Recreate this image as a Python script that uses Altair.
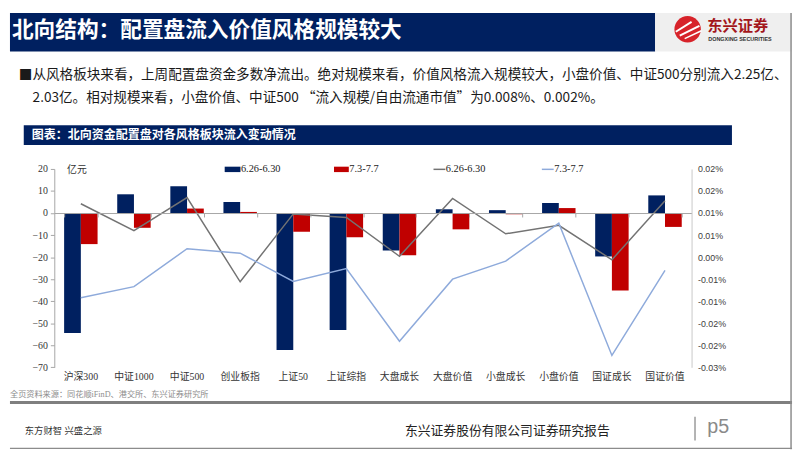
import altair as alt
import pandas as pd

# ---------------- data ----------------
categories = ['沪深300', '中证1000', '中证500', '创业板指', '上证50', '上证综指',
              '大盘成长', '大盘价值', '小盘成长', '小盘价值', '国证成长', '国证价值']
series = ['6.26-6.30', '7.3-7.7']
flow_626 = [-54.4, 8.5, 12.1, 5.0, -62.1, -53.1, -17.0, 1.7, 1.3, 4.6, -19.7, 8.0]
flow_73 = [-14.1, -6.7, 2.03, 0.5, -8.5, -11.0, -19.2, -7.4, -0.5, 2.25, -35.1, -6.3]
ratio_626 = [0.0121, 0.0060, 0.0135, -0.0056, 0.0098, 0.0090, 0.0002, 0.0133, 0.0053, 0.0072, -0.0006, 0.0128]
ratio_73 = [-0.0092, -0.0067, 0.0019, 0.0009, -0.0055, -0.0026, -0.0191, -0.0050, -0.0009, 0.0077, -0.0223, -0.0030]
left_ticks = [20, 10, 0, -10, -20, -30, -40, -50, -60, -70]
right_ticks = [0.02, 0.015, 0.01, 0.005, 0.0, -0.005, -0.01, -0.015, -0.02, -0.025]

title_text = '北向结构：配置盘流入价值风格规模较大'
para1 = '■从风格板块来看，上周配置盘资金多数净流出。绝对规模来看，价值风格流入规模较大，小盘价值、中证500分别流入2.25亿、'
para2 = '2.03亿。相对规模来看，小盘价值、中证500 “流入规模/自由流通市值”为0.008%、0.002%。'
chart_title = '图表：北向资金配置盘对各风格板块流入变动情况'
unit_text = '亿元'
source_text = '全页资料来源：同花顺iFinD、港交所、东兴证券研究所'
footer_left = '东方财智 兴盛之源'
footer_mid = '东兴证券股份有限公司证券研究报告'
page_no = 'p5'
logo_cn = '东兴证券'
logo_en = 'DONGXING SECURITIES'

bars = pd.DataFrame({
    'cat': categories * 2,
    'series': [series[0]] * len(categories) + [series[1]] * len(categories),
    'value': flow_626 + flow_73,
})
lines = pd.DataFrame({
    'cat': categories * 2,
    'series': [series[0]] * len(categories) + [series[1]] * len(categories),
    'pct': ratio_626 + ratio_73,
})
dummy = pd.DataFrame({'a': [0]})

# ---------------- layout (plot area origin in page coords) ----------------
OX, OY = 53.0, 166.3
PW, PH = 647.0, 201.4
ZERO_FROM_TOP = 20.0 / 90.0 * PH


def RX(x):
    return x - OX


def RY(y):
    return y - OY


NAVY = '#002060'
RED = '#c00000'
GRAY_LINE = '#737373'
BLUE_LINE = '#8eaadb'
CJK = 'Noto Sans CJK SC'
SERIF = 'Liberation Serif, Noto Sans CJK SC'

xscale = alt.Scale(paddingInner=0.37, paddingOuter=0.185)
x_axis = alt.Axis(orient='bottom', offset=-(PH - ZERO_FROM_TOP), labels=False,
                  domain=True, domainColor='#a6a6a6', ticks=True, tickBand='extent',
                  tickSize=4, tickColor='#a6a6a6', grid=False, title=None, zindex=1)
x_enc = alt.X('cat:N', sort=categories, scale=xscale, axis=x_axis)

bar_layer = alt.Chart(bars).mark_bar().encode(
    x=x_enc,
    xOffset=alt.XOffset('series:N', sort=series, scale=alt.Scale(paddingInner=0)),
    y=alt.Y('value:Q', scale=alt.Scale(domain=[-70, 20], nice=False, zero=False),
            axis=alt.Axis(orient='left', values=left_ticks, domainColor='#a6a6a6',
                          tickColor='#a6a6a6', tickSize=4, labelFont='Liberation Serif',
                          labelFontSize=10, labelColor='#333333', labelPadding=3,
                          grid=False, title=None, zindex=1)),
    color=alt.Color('series:N', sort=series,
                    scale=alt.Scale(domain=series, range=[NAVY, RED]), legend=None),
)

label_expr = ("(datum.value < 0 ? '-' : '') + format(round(abs(datum.value) * 100 + 1e-6) / 100, '.2f') + '%'")
line_layer = alt.Chart(lines).mark_line(strokeWidth=1.5).encode(
    x=x_enc,
    y=alt.Y('pct:Q', scale=alt.Scale(domain=[-0.025, 0.02], nice=False, zero=False),
            axis=alt.Axis(orient='right', values=right_ticks, labelExpr=label_expr,
                          domainColor='#c8c8c8', ticks=False, labelFont='Liberation Sans',
                          labelFontSize=9, labelColor='#404040', labelPadding=6,
                          grid=False, title=None, zindex=1)),
    color=alt.Color('series:N', sort=series,
                    scale=alt.Scale(domain=series, range=[GRAY_LINE, BLUE_LINE]), legend=None),
)

cat_labels = alt.Chart(pd.DataFrame({'cat': categories})).mark_text(
    font=SERIF, fontSize=10, color='#333333', baseline='middle', align='center'
).encode(x=x_enc, y=alt.value(RY(377.5)), text='cat:N')


def box(x1, y1, x2, y2, color):
    return alt.Chart(dummy).mark_rect(color=color).encode(
        x=alt.value(RX(x1)), x2=alt.value(RX(x2)), y=alt.value(RY(y1)), y2=alt.value(RY(y2)))


def rule(x1, y1, x2, y2, color, w):
    return alt.Chart(dummy).mark_rule(color=color, strokeWidth=w).encode(
        x=alt.value(RX(x1)), x2=alt.value(RX(x2)), y=alt.value(RY(y1)), y2=alt.value(RY(y2)))


def txt(text, x, y, size, color, font=CJK, weight='normal', align='left'):
    return alt.Chart(dummy).mark_text(
        text=text, fontSize=size, color=color, font=font, fontWeight=weight,
        align=align, baseline='middle').encode(x=alt.value(RX(x)), y=alt.value(RY(y)))


deco = [
    box(8, 8, 663, 47, NAVY),
    box(663, 8, 802, 47, '#efefef'),
    txt(title_text, 10, 25, 22, 'white', weight='bold'),
    # logo
    alt.Chart(dummy).mark_point(filled=True, shape='circle', size=720, color='#d7232a', opacity=1).encode(
        x=alt.value(RX(696)), y=alt.value(RY(24.5))),
    rule(684, 27, 700, 17, 'white', 2),
    rule(688, 31, 708, 21, 'white', 2),
    rule(693, 34, 710, 26, 'white', 1.5),
    txt(logo_cn, 716, 21, 15.5, '#a3161c', weight='bold'),
    txt(logo_en, 717, 34, 5.5, '#333333', font='Liberation Sans', weight='bold'),
    # paragraph
    txt(para1, 17, 71, 13.8, '#1a1a1a'),
    txt(para2, 31, 94, 13.8, '#1a1a1a'),
    # chart title bar
    box(22, 122, 741, 142, NAVY),
    txt(chart_title, 30, 132, 12.2, 'white', weight='bold'),
    # unit
    txt(unit_text, 66, 167, 10, '#333333', font=SERIF),
    # legend
    box(226, 164, 242, 169.5, NAVY),
    txt(series[0], 242.5, 166.7, 10.5, '#222222', font='Liberation Serif'),
    box(337, 164, 352, 169.5, RED),
    txt(series[1], 352.5, 166.7, 10.5, '#222222', font='Liberation Serif'),
    rule(438, 166.7, 450, 166.7, GRAY_LINE, 1.5),
    txt(series[0], 450.5, 166.7, 10.5, '#222222', font='Liberation Serif'),
    rule(548, 166.7, 560, 166.7, BLUE_LINE, 1.5),
    txt(series[1], 560.5, 166.7, 10.5, '#222222', font='Liberation Serif'),
    # source
    txt(source_text, 8, 396, 8.3, '#8c8c8c', font=SERIF),
    # footer
    rule(8, 403.5, 802, 403.5, '#7f7f7f', 3),
    txt(footer_left, 23, 432.5, 9.5, '#333333', font=SERIF),
    txt(footer_mid, 409, 432.5, 13, '#222222'),
    rule(703.5, 418, 703.5, 442, '#9a9a9a', 1.5),
    txt(page_no, 716, 428, 20, '#8a8a8a', font='Liberation Sans'),
    rule(8, 450, 802, 450, '#8c8c8c', 1.5),
    rule(801, 8, 801, 451, '#8c8c8c', 1.5),
]

chart = alt.layer(*deco, bar_layer, line_layer, cat_labels).resolve_scale(
    y='independent', color='independent'
).properties(
    width=PW, height=PH,
    autosize=alt.AutoSizeParams(type='pad'),
    padding=0,
    background='white',
).configure_view(stroke=None)

chart.save('out.html', embed_options={'renderer': 'svg', 'actions': False})
